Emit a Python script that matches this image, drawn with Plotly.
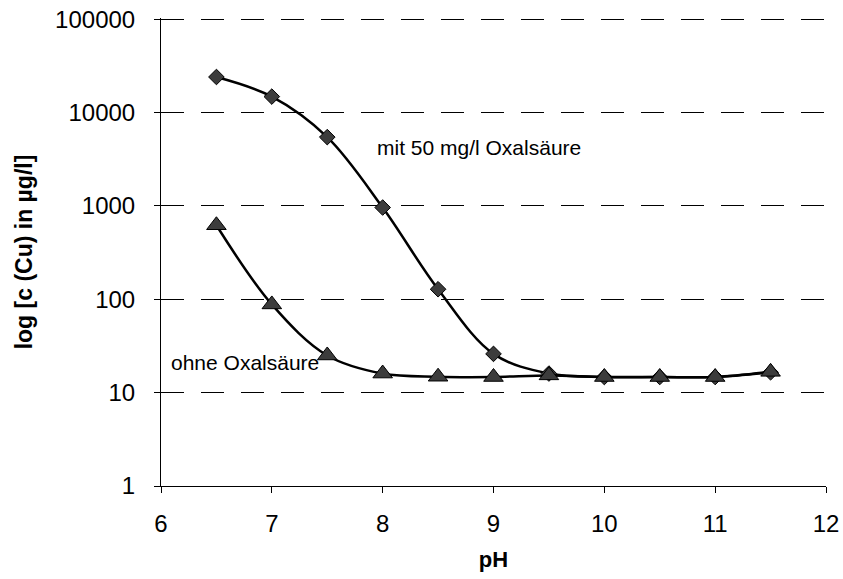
import plotly.graph_objects as go

# Data
ph = [6.5, 7.0, 7.5, 8.0, 8.5, 9.0, 9.5, 10.0, 10.5, 11.0, 11.5]
mit_oxal = [24000, 14800, 5450, 960, 128, 26, 16, 14.7, 14.7, 14.7, 16.5]
ohne_oxal = [620, 88, 25, 16, 14.8, 14.7, 15.3, 14.7, 14.7, 14.7, 16.7]

y_tickvals = [1, 10, 100, 1000, 10000, 100000]
y_ticktext = ["1", "10", "100", "1000", "10000", "100000"]
x_tickvals = [6, 7, 8, 9, 10, 11, 12]

FONT = "Liberation Sans, Arial, Helvetica, sans-serif"

fig = go.Figure()
fig.add_trace(go.Scatter(
    x=ph, y=mit_oxal, mode="lines+markers", name="mit 50 mg/l Oxalsäure",
    line=dict(color="black", width=2.5, shape="spline", smoothing=1),
    marker=dict(symbol="diamond", size=12, color="#3c3c3c",
                line=dict(color="black", width=1)),
))
fig.add_trace(go.Scatter(
    x=ph, y=ohne_oxal, mode="lines+markers", name="ohne Oxalsäure",
    line=dict(color="black", width=2.5, shape="spline", smoothing=1),
    marker=dict(symbol="triangle-up", size=17, color="#3c3c3c",
                line=dict(color="black", width=1)),
))

fig.add_annotation(x=8.87, y=3.62, xref="x", yref="y", text="mit 50 mg/l Oxalsäure",
                   showarrow=False, xanchor="center", yanchor="middle",
                   font=dict(family=FONT, size=21, color="black"))
fig.add_annotation(x=6.0, y=1.32, xref="x", yref="y", text="ohne Oxalsäure",
                   showarrow=False, xanchor="left", yanchor="middle",
                   font=dict(family=FONT, size=21, color="black"), xshift=8)

fig.update_layout(
    width=843, height=579,
    margin=dict(l=161, r=17, t=18, b=93),
    paper_bgcolor="white", plot_bgcolor="white",
    showlegend=False,
    font=dict(family=FONT, color="black"),
    xaxis=dict(
        range=[6, 12], tickvals=x_tickvals, ticks="outside", ticklen=6,
        tickwidth=1, tickcolor="black", automargin=False,
        showline=True, linecolor="black", linewidth=1, showgrid=False,
        zeroline=False, tickfont=dict(size=24, family=FONT),
        ticklabelstandoff=10,
        title=dict(text="<b>pH</b>", font=dict(size=22, family=FONT), standoff=15),
    ),
    yaxis=dict(
        type="log", range=[0, 5.012], tickvals=y_tickvals, ticktext=y_ticktext,
        ticks="outside", ticklen=6, tickwidth=1, tickcolor="black", automargin=False,
        showline=True, linecolor="black", linewidth=1,
        showgrid=True, gridcolor="black", gridwidth=1, griddash="23px,17px",
        zeroline=False, tickfont=dict(size=24, family=FONT),
        ticklabelstandoff=14,
        title=dict(text="<b>log [c (Cu) in µg/l]</b>", font=dict(size=23, family=FONT), standoff=16),
    ),
    yaxis2=dict(
        type="log", range=[0, 5.012], tickvals=y_tickvals, overlaying="y", anchor="x",
        side="left", ticks="inside", ticklen=5, tickwidth=1, tickcolor="black",
        showticklabels=False, showgrid=False, showline=False, zeroline=False,
        automargin=False,
    ),
)

fig.write_html("out.html")
